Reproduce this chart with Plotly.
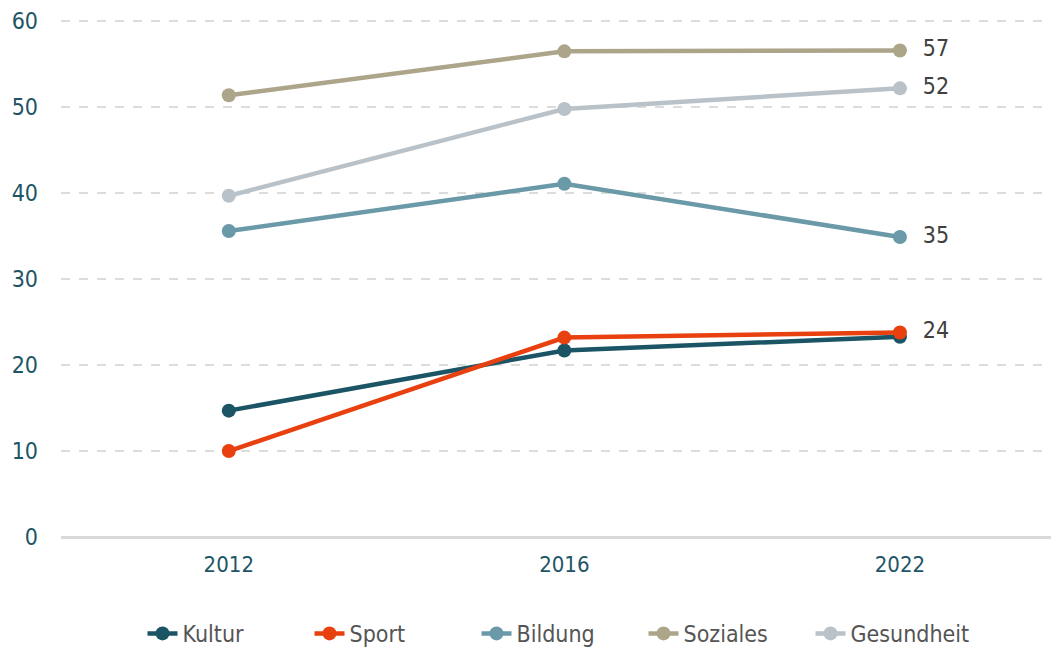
import plotly.graph_objects as go

years = ["2012", "2016", "2022"]
series_names = ["Kultur", "Sport", "Bildung", "Soziales", "Gesundheit"]
kultur = [14.7, 21.7, 23.3]
sport = [10.0, 23.2, 23.8]
bildung = [35.6, 41.1, 34.9]
soziales = [51.4, 56.5, 56.6]
gesundheit = [39.7, 49.8, 52.2]
end_labels = ["", "24", "35", "57", "52"]
colors = ["#1b5465", "#e8400e", "#6a99a8", "#ada58a", "#b9c2c8"]
y_ticks = [0, 10, 20, 30, 40, 50, 60]

FONT = "DejaVu Sans Condensed"

fig = go.Figure()
data = [kultur, sport, bildung, soziales, gesundheit]
for name, vals, col, lab in zip(series_names, data, colors, end_labels):
    fig.add_trace(go.Scatter(
        x=years, y=vals, name=name, mode="lines+markers+text",
        line=dict(color=col, width=4.5),
        marker=dict(color=col, size=14),
        text=["", "", ("  " + lab) if lab else ""], textposition="middle right",
        textfont=dict(family=FONT, size=23, color="#404040"),
        cliponaxis=False,
    ))

fig.update_layout(
    width=1051, height=639,
    margin=dict(l=53, r=0, t=12, b=110, autoexpand=False),
    paper_bgcolor="white", plot_bgcolor="white",
    font=dict(family=FONT, size=22, color="#1e5566"),
    showlegend=True,
    legend=dict(orientation="h", x=0.5, xanchor="center", y=-0.145, yanchor="top",
                font=dict(family=FONT, size=23, color="#555555"),
                entrywidth=122, entrywidthmode="pixels", traceorder="normal"),
)
fig.update_xaxes(type="category", range=[-0.5, 2.474], showgrid=False, showline=False,
                 ticks="", automargin=False, ticklabelstandoff=12,
                 tickfont=dict(family=FONT, size=22, color="#1e5566"))
fig.update_yaxes(range=[0, 60.15], tickvals=y_ticks, showgrid=True, gridcolor="#dcdcdc",
                 griddash="dash", gridwidth=1.5, zeroline=True, zerolinecolor="#d9d9d9",
                 zerolinewidth=2.5, ticks="", ticklabelstandoff=22, automargin=False,
                 tickfont=dict(family=FONT, size=23, color="#1e5566"))

fig.write_html("out.html")
